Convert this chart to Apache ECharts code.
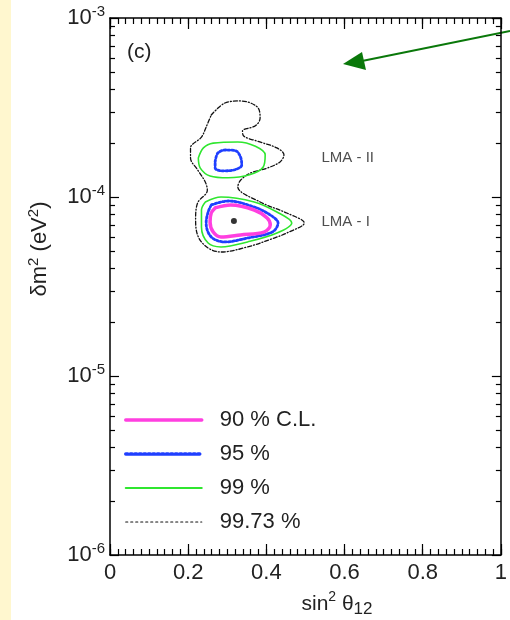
<!DOCTYPE html>
<html><head><meta charset="utf-8">
<script src="https://cdn.jsdelivr.net/npm/echarts@6/dist/echarts.min.js"></script>
<style>html,body{margin:0;padding:0;background:#fff}#c{width:510px;height:620px}</style>
</head><body><div id="c"></div>
<script>
// ---------- data ----------
const levels = ['90 % C.L.', '95 %', '99 %', '99.73 %'];
const levelColors = ['#ff3fe0', '#1f3fff', '#2fe62f', '#111111'];

const cl9973 = [
  [0.259, 2.87e-4], [0.294, 3.35e-4], [0.334, 3.44e-4], [0.377, 3.18e-4], [0.384, 2.76e-4],
  [0.372, 2.50e-4], [0.339, 2.34e-4], [0.342, 2.19e-4], [0.377, 2.05e-4], [0.427, 1.88e-4],
  [0.445, 1.72e-4], [0.435, 1.57e-4], [0.402, 1.45e-4], [0.359, 1.36e-4], [0.334, 1.24e-4],
  [0.327, 1.14e-4], [0.384, 9.38e-5], [0.452, 8.14e-5], [0.497, 7.16e-5], [0.452, 6.29e-5],
  [0.420, 5.90e-5], [0.352, 5.26e-5], [0.284, 4.93e-5], [0.251, 5.19e-5], [0.226, 5.98e-5],
  [0.219, 7.44e-5], [0.224, 9.25e-5], [0.249, 1.09e-4], [0.244, 1.21e-4], [0.224, 1.42e-4],
  [0.206, 1.65e-4], [0.206, 1.88e-4], [0.234, 2.16e-4], [0.246, 2.46e-4]
];
const cl99Upper = [
  [0.226, 1.65e-4], [0.239, 1.88e-4], [0.264, 2.00e-4], [0.327, 2.03e-4], [0.372, 1.92e-4],
  [0.397, 1.72e-4], [0.392, 1.47e-4], [0.357, 1.33e-4], [0.302, 1.28e-4], [0.256, 1.31e-4],
  [0.231, 1.45e-4]
];
const cl99Lower = [
  [0.244, 9.38e-5], [0.284, 1.00e-4], [0.369, 9.38e-5], [0.427, 8.24e-5], [0.465, 7.16e-5],
  [0.427, 6.29e-5], [0.352, 5.61e-5], [0.284, 5.26e-5], [0.251, 5.53e-5], [0.234, 6.80e-5],
  [0.234, 8.46e-5]
];
const cl95Upper = [
  [0.269, 1.57e-4], [0.276, 1.76e-4], [0.296, 1.83e-4], [0.322, 1.81e-4], [0.334, 1.67e-4],
  [0.337, 1.51e-4], [0.319, 1.42e-4], [0.289, 1.40e-4], [0.269, 1.45e-4]
];
const cl95Lower = [
  [0.259, 9.02e-5], [0.302, 9.50e-5], [0.369, 8.79e-5], [0.410, 7.93e-5], [0.430, 7.16e-5],
  [0.415, 6.37e-5], [0.352, 5.90e-5], [0.294, 5.61e-5], [0.259, 5.98e-5], [0.246, 7.16e-5],
  [0.251, 8.24e-5]
];
const cl90Lower = [
  [0.269, 8.69e-5], [0.309, 9.02e-5], [0.369, 8.46e-5], [0.402, 7.64e-5], [0.410, 6.98e-5],
  [0.394, 6.37e-5], [0.334, 6.14e-5], [0.284, 5.98e-5], [0.264, 6.37e-5], [0.256, 7.25e-5],
  [0.259, 8.14e-5]
];
const bestFit = [[0.317, 7.35e-5]];
const regionLabels = [[0.541, 1.65e-4, 'LMA - II'], [0.541, 7.25e-5, 'LMA - I']];
const xMin = 0, xMax = 1, xInterval = 0.2, xMinorStep = 0.02;
const yMin = 1e-6, yMax = 1e-3;
const yDecadeStarts = [1e-6, 1e-5, 1e-4];
const yMinorMultipliers = [2, 3, 4, 5, 6, 7, 8, 9];

// ---------- build ----------
const FONT = '"Liberation Sans", Arial, Helvetica, sans-serif';
const TXT = '#222';
const closeRing = a => a.concat([a[0]]);
const yMinorTicks = [];
yDecadeStarts.forEach(d => yMinorMultipliers.forEach(m => yMinorTicks.push([xMin, d * m])));

function contour(name, data, color, width, type, z) {
  return {
    type: 'line', name: name, data: closeRing(data), xAxisIndex: 0, yAxisIndex: 0,
    smooth: 0.35, symbol: 'none', showSymbol: false, z: z, silent: true,
    lineStyle: { color: color, width: width, type: type, cap: 'round' },
    itemStyle: { color: color }
  };
}

const yLabelFmt = v => '{b|10}{s|' + Math.round(Math.log10(v)) + '}';
const yRich = { b: { fontSize: 22, fontFamily: FONT, color: TXT, lineHeight: 28, verticalAlign: 'middle' },
                s: { fontSize: 15, fontFamily: FONT, color: TXT, lineHeight: 15, verticalAlign: 'top' } };

const axLine = { show: true, onZero: false, lineStyle: { color: '#000', width: 1.5 } };
const majorTick = { show: true, inside: true, length: 11, lineStyle: { color: '#000', width: 1.2 } };
const minorAxis = pos => ({
  type: 'value', min: xMin, max: xMax, interval: xMinorStep, position: pos,
  axisLine: { show: false, onZero: false },
  axisTick: { show: true, inside: true, length: 6, lineStyle: { color: '#000', width: 1.2 } },
  splitLine: { show: false }, axisLabel: { show: false }
});

const chart = echarts.init(document.getElementById('c'), null, { renderer: 'canvas' });
chart.setOption({
  animation: false,
  backgroundColor: '#ffffff',
  grid: { left: 110, right: 2, top: 18, bottom: 65, containLabel: false },
  xAxis: [
    { type: 'value', min: xMin, max: xMax, interval: xInterval, position: 'bottom',
      axisLine: axLine, axisTick: majorTick, splitLine: { show: false },
      axisLabel: { show: true, fontSize: 22, fontFamily: FONT, color: TXT, margin: 7,
                   formatter: v => String(+v.toFixed(1)) } },
    { type: 'value', min: xMin, max: xMax, interval: xInterval, position: 'top',
      axisLine: axLine, axisTick: majorTick, splitLine: { show: false }, axisLabel: { show: false } },
    minorAxis('bottom'),
    minorAxis('top')
  ],
  yAxis: [
    { type: 'log', logBase: 10, min: yMin, max: yMax, position: 'left',
      axisLine: axLine, axisTick: { show: true, inside: true, length: 9, lineStyle: { color: '#000', width: 1.2 } },
      splitLine: { show: false },
      axisLabel: { show: true, margin: 5, formatter: yLabelFmt, rich: yRich } },
    { type: 'log', logBase: 10, min: yMin, max: yMax, position: 'right',
      axisLine: axLine, axisTick: { show: true, inside: true, length: 9, lineStyle: { color: '#000', width: 1.2 } },
      splitLine: { show: false }, axisLabel: { show: false } }
  ],
  legend: {
    data: [
      { name: levels[0], lineStyle: { width: 3.5 } },
      { name: levels[1], lineStyle: { width: 3.5, type: [2, 2.5] } },
      { name: levels[2], lineStyle: { width: 2 } },
      { name: levels[3], lineStyle: { width: 1.2, type: [2, 3] } }
    ],
    orient: 'vertical', left: 124, top: 409, padding: 0,
    itemWidth: 76, itemHeight: 20, itemGap: 12,
    itemStyle: { opacity: 0 },
    textStyle: { fontSize: 22, fontFamily: FONT, color: TXT, padding: [0, 0, 0, 13] },
    selectedMode: false
  },
  series: [
    contour(levels[3], cl9973, levelColors[3], 1.3, [4, 2, 1, 2], 2),
    contour(levels[2], cl99Upper, levelColors[2], 1.6, 'solid', 3),
    contour(levels[2], cl99Lower, levelColors[2], 1.6, 'solid', 3),
    contour(levels[1], cl95Upper, levelColors[1], 2.8, [2, 2], 4),
    contour(levels[1], cl95Lower, levelColors[1], 2.8, [2, 2], 4),
    contour(levels[0], cl90Lower, levelColors[0], 3.5, 'solid', 5),
    { type: 'scatter', data: bestFit, symbol: 'circle', symbolSize: 6, silent: true, z: 6,
      itemStyle: { color: '#000' } },
    { type: 'scatter', data: regionLabels, symbolSize: 0, silent: true, z: 6,
      label: { show: true, position: 'right', distance: 0, formatter: p => p.data[2],
               fontSize: 15, fontFamily: FONT, color: TXT } },
    { type: 'custom', data: yMinorTicks, silent: true, z: 7, clip: false,
      renderItem: function (params, api) {
        const cs = params.coordSys;
        const py = Math.round(api.coord([api.value(0), api.value(1)])[1]) + 0.5;
        const L = cs.x, R = cs.x + cs.width;
        return { type: 'group', children: [
          { type: 'line', shape: { x1: L, y1: py, x2: L + 5, y2: py }, style: { stroke: '#000', lineWidth: 1.2 } },
          { type: 'line', shape: { x1: R, y1: py, x2: R - 5, y2: py }, style: { stroke: '#000', lineWidth: 1.2 } }
        ] };
      } }
  ],
  graphic: [
    { type: 'rect', left: 0, top: 0, shape: { width: 11, height: 620 }, style: { fill: '#fff7cf' }, z: -1 },
    { type: 'text', x: 127, y: 52, style: { text: '(c)', font: '21px ' + FONT, fill: TXT, verticalAlign: 'middle' } },
    { type: 'text', x: 337, y: 604,
      style: { text: '{b|sin}{s|2}{b| θ}{u|12}', align: 'center', verticalAlign: 'middle',
        rich: { b: { fontSize: 21, fontFamily: FONT, fill: TXT, color: TXT, lineHeight: 28, verticalAlign: 'middle' },
                s: { fontSize: 14, fontFamily: FONT, fill: TXT, color: TXT, lineHeight: 14, verticalAlign: 'top' },
                u: { fontSize: 17, fontFamily: FONT, fill: TXT, color: TXT, lineHeight: 17, verticalAlign: 'bottom' } } } },
    { type: 'text', x: 40, y: 249, rotation: Math.PI / 2,
      style: { text: '{b|δm}{s|2}{b| (eV}{s|2}{b|)}', align: 'center', verticalAlign: 'middle',
        rich: { b: { fontSize: 22, fontFamily: FONT, fill: TXT, color: TXT, lineHeight: 28, verticalAlign: 'middle' },
                s: { fontSize: 15, fontFamily: FONT, fill: TXT, color: TXT, lineHeight: 15, verticalAlign: 'top' } } } },
    { type: 'line', shape: { x1: 510, y1: 31, x2: 362, y2: 61 }, style: { stroke: '#0a780a', lineWidth: 2 } },
    { type: 'polygon', shape: { points: [[343, 64], [362, 52], [366, 70]] }, style: { fill: '#0a780a' } }
  ]
});
</script></body></html>
